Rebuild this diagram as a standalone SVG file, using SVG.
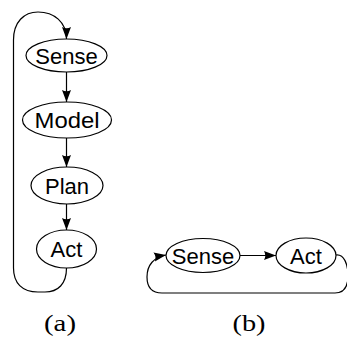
<svg xmlns="http://www.w3.org/2000/svg" width="347" height="340" viewBox="0 0 347 340">
  <style>
    .node ellipse { fill: #ffffff; stroke: #000000; stroke-width: 1.2; }
    .node text { font-family: "Liberation Sans", "DejaVu Sans", sans-serif; font-size: 22px; text-anchor: middle; fill: #000000; }
    .edge { fill: none; stroke: #000000; stroke-width: 1.2; marker-end: url(#arrow); }
    .caption { font-family: "Liberation Serif", "DejaVu Serif", serif; font-size: 24px; text-anchor: middle; fill: #000000; }
  </style>
  <defs>
    <marker id="arrow" markerUnits="userSpaceOnUse" markerWidth="13" markerHeight="10" viewBox="0 0 13 10" refX="12" refY="5" orient="auto">
      <path d="M0,0.5 L12,5 L0,9.5 Q2.5,5 0,0.5 Z" fill="#000000"/>
    </marker>
  </defs>

  <!-- (a) sense-model-plan-act pipeline, (b) sense-act loop -->
  <g id="connectors">
    <path class="edge" d="M66.5,72 L66.5,102"/>
    <path class="edge" d="M66.5,138 L66.5,167"/>
    <path class="edge" d="M66.5,204 L66.5,230"/>
    <path class="edge" d="M66.5,268 C66.5,284 58,292 45,292 L38,292 C22,292 13.5,283 13.5,268 L13.5,40 C13.5,22 24,12 38,12 C54,12 66.5,22 66.5,39"/>
    <path class="edge" d="M240,255.5 L276,255.5"/>
    <path class="edge" d="M336,255 C344,254 348,264 348,276 C348,288 343,293 335,293 L162,293 C152,293 147,287 147,277 C147,265 154,257 166,255"/>
  </g>

  <g id="a-sense" class="node">
    <ellipse cx="66.5" cy="55.5" rx="40.5" ry="16.5"/>
    <text x="66.5" y="63.5">Sense</text>
  </g>
  <g id="a-model" class="node">
    <ellipse cx="67" cy="120" rx="44.5" ry="18"/>
    <text x="67" y="128" textLength="65" lengthAdjust="spacingAndGlyphs">Model</text>
  </g>
  <g id="a-plan" class="node">
    <ellipse cx="67" cy="185.5" rx="36" ry="18.5"/>
    <text x="67" y="193.5">Plan</text>
  </g>
  <g id="a-act" class="node">
    <ellipse cx="66.5" cy="249" rx="30" ry="19"/>
    <text x="66.5" y="257">Act</text>
  </g>

  <g id="b-sense" class="node">
    <ellipse cx="203" cy="255.5" rx="37" ry="17"/>
    <text x="203" y="263.5">Sense</text>
  </g>
  <g id="b-act" class="node">
    <ellipse cx="306" cy="255.5" rx="30" ry="17.5"/>
    <text x="306" y="263.5">Act</text>
  </g>

  <text class="caption" x="60" y="331" textLength="32" lengthAdjust="spacingAndGlyphs">(a)</text>
  <text class="caption" x="249" y="331" textLength="33" lengthAdjust="spacingAndGlyphs">(b)</text>
</svg>
